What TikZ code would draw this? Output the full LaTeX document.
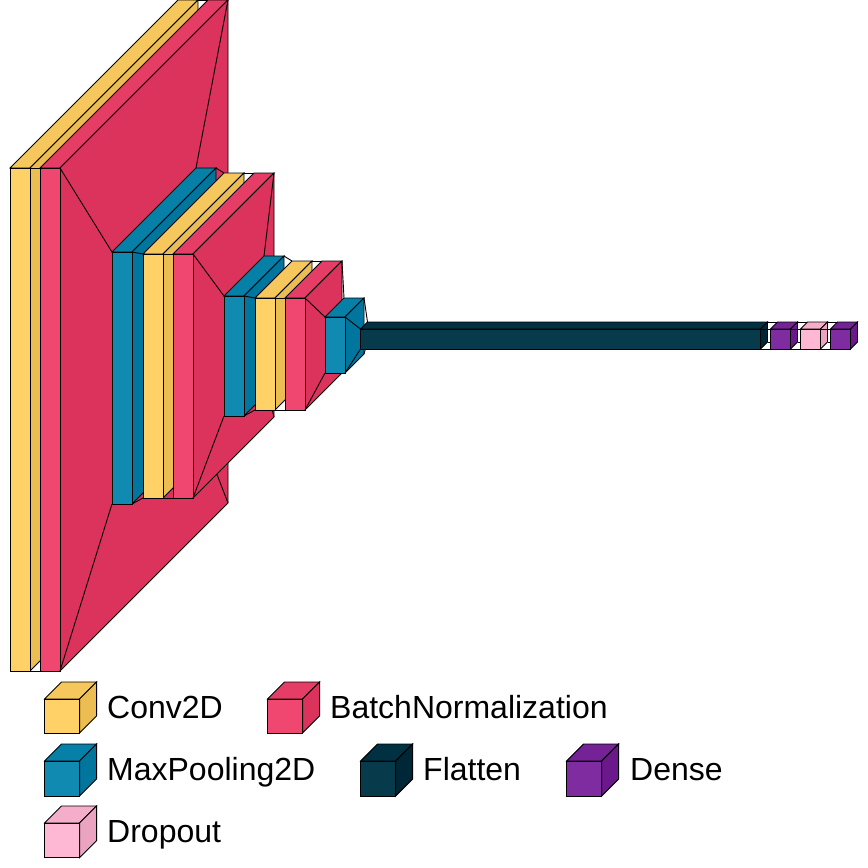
\documentclass[tikz,border=0pt]{standalone}
\usepackage{fontspec}
\setmainfont{Liberation Sans}

\definecolor{convfront}{HTML}{FFD166}
\definecolor{convtop}{HTML}{F5C75C}
\definecolor{convside}{HTML}{EBBD52}
\definecolor{normfront}{HTML}{EF476F}
\definecolor{normtop}{HTML}{E53D65}
\definecolor{normside}{HTML}{DB335B}
\definecolor{poolfront}{HTML}{118AB2}
\definecolor{pooltop}{HTML}{0780A8}
\definecolor{poolside}{HTML}{00769E}
\definecolor{flatfront}{HTML}{073B4C}
\definecolor{flattop}{HTML}{003142}
\definecolor{flatside}{HTML}{002738}
\definecolor{densefront}{HTML}{7F2CA0}
\definecolor{densetop}{HTML}{752296}
\definecolor{denseside}{HTML}{6B188C}
\definecolor{dropfront}{HTML}{FFB8D4}
\definecolor{droptop}{HTML}{F5AECA}
\definecolor{dropside}{HTML}{EBA4C0}

% name, x1, y1, x2, y2, depth
\newcommand{\layerdim}[6]{
  \coordinate (#1-tl) at (#2,#3);
  \coordinate (#1-tr) at (#4,#3);
  \coordinate (#1-br) at (#4,#5);
  \coordinate (#1-bl) at (#2,#5);
  \coordinate (#1-btl) at ({#2+#6},{#3-#6});
  \coordinate (#1-btr) at ({#4+#6},{#3-#6});
  \coordinate (#1-bbr) at ({#4+#6},{#5-#6});
  \coordinate (#1-bbl) at ({#2+#6},{#5-#6});
}
% name, colour prefix
\newcommand{\layerbox}[2]{
  \draw[edge, fill=#2top] (#1-tl) -- (#1-btl) -- (#1-btr) -- (#1-tr) -- cycle;
  \draw[edge, fill=#2side] (#1-tr) -- (#1-btr) -- (#1-bbr) -- (#1-br) -- cycle;
  \draw[edge, fill=#2front] (#1-tl) -- (#1-tr) -- (#1-br) -- (#1-bl) -- cycle;
}
% lines from one box to the next
\newcommand{\funnel}[2]{
  \draw[edge] (#1-tr) -- (#2-tl);
  \draw[edge] (#1-btr) -- (#2-btl);
  \draw[edge] (#1-br) -- (#2-bl);
  \draw[edge] (#1-bbr) -- (#2-bbl);
}

\begin{document}
\begin{tikzpicture}[x=1pt, y=-1pt]
\tikzset{
  edge/.style={draw=black, line width=0.9pt, line join=miter},
  legendtext/.style={font=\fontsize{32}{36}\selectfont, anchor=base west, inner sep=0pt, text=black}
}
\useasboundingbox (0,0) rectangle (868,868);

% Sizes of the layers
\layerdim{conva}{10}{168}{30}{671}{168}
\layerdim{norma}{40}{168}{60}{671}{168}
\layerdim{poola}{112}{252}{132}{504}{84}
\layerdim{convb}{143}{254}{163}{498}{81}
\layerdim{normb}{173}{254}{193}{498}{81}
\layerdim{poolb}{224}{296}{244}{416}{40}
\layerdim{convc}{255}{298}{275}{410}{37}
\layerdim{normc}{285}{298}{305}{410}{37}
\layerdim{poolc}{325}{317}{345}{373}{19}
\layerdim{flat}{360.5}{329}{760.5}{349}{7}
\layerdim{densea}{770.5}{329}{790.5}{349}{7}
\layerdim{drop}{800.5}{329}{820.5}{349}{7}
\layerdim{denseb}{830.5}{329}{850.5}{349}{7}

% Layers
\layerbox{conva}{conv}
\funnel{conva}{norma}
\layerbox{norma}{norm}
\funnel{norma}{poola}
\layerbox{poola}{pool}
\funnel{poola}{convb}
\layerbox{convb}{conv}
\funnel{convb}{normb}
\layerbox{normb}{norm}
\funnel{normb}{poolb}
\layerbox{poolb}{pool}
\funnel{poolb}{convc}
\layerbox{convc}{conv}
\funnel{convc}{normc}
\layerbox{normc}{norm}
\funnel{normc}{poolc}
\layerbox{poolc}{pool}
\funnel{poolc}{flat}
\layerbox{flat}{flat}
\funnel{flat}{densea}
\layerbox{densea}{dense}
\funnel{densea}{drop}
\layerbox{drop}{drop}
\funnel{drop}{denseb}
\layerbox{denseb}{dense}

% Legend
\layerdim{keyconv}{44.6}{699}{79.6}{733}{17}
\layerbox{keyconv}{conv}
\node[legendtext] (labelconv) at (107,718.6) {Conv2D};
\layerdim{keynorm}{267.6}{699}{302.6}{733}{17}
\layerbox{keynorm}{norm}
\node[legendtext] (labelnorm) at (330,718.6) {BatchNormalization};
\layerdim{keypool}{44.6}{761}{79.6}{796}{17}
\layerbox{keypool}{pool}
\node[legendtext] (labelpool) at (107,780.6) {MaxPooling2D};
\layerdim{keyflat}{360.6}{761}{395.6}{796}{17}
\layerbox{keyflat}{flat}
\node[legendtext] (labelflat) at (423,780.6) {Flatten};
\layerdim{keydense}{566.6}{761}{601.6}{796}{17}
\layerbox{keydense}{dense}
\node[legendtext] (labeldense) at (630,780.6) {Dense};
\layerdim{keydrop}{44.6}{823}{79.6}{857.6}{17}
\layerbox{keydrop}{drop}
\node[legendtext] (labeldrop) at (107,842.6) {Dropout};

\end{tikzpicture}
\end{document}
